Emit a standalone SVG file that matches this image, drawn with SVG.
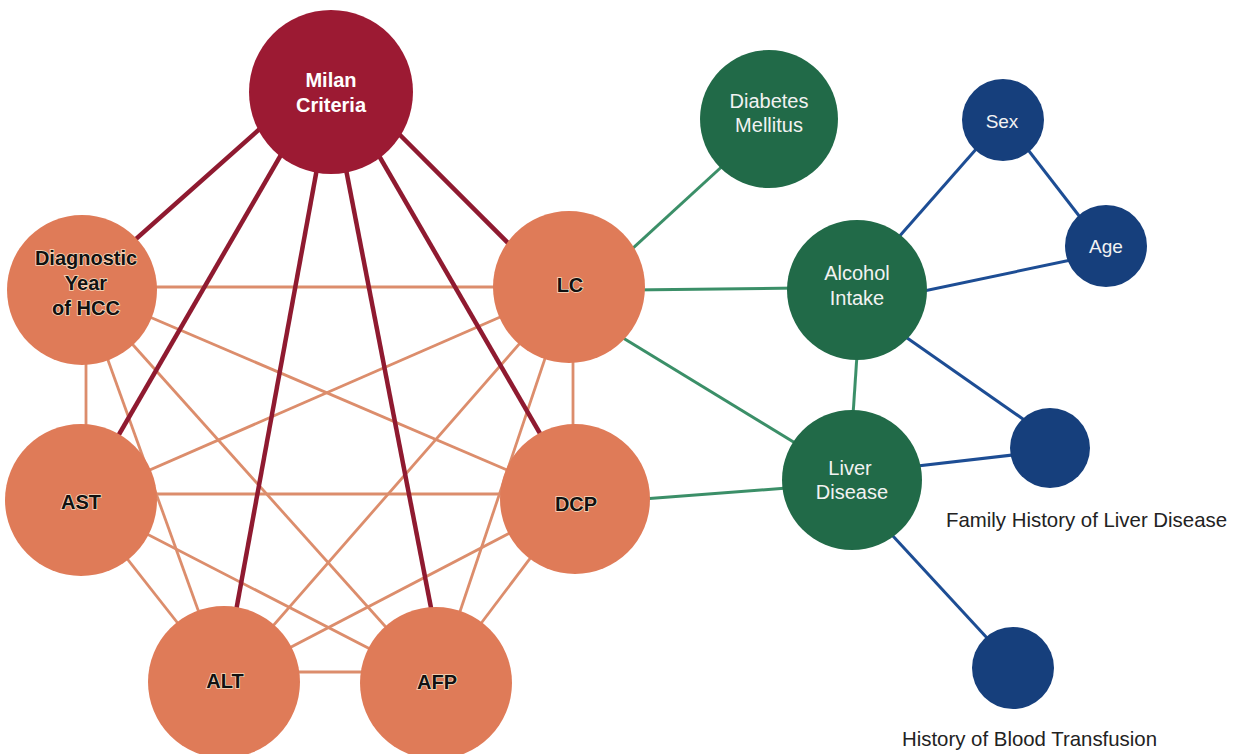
<svg xmlns="http://www.w3.org/2000/svg" width="1238" height="754" viewBox="0 0 1238 754">
<style>
.eo{stroke:#dc8d6c;stroke-width:2.8;fill:none}
.er{stroke:#8f1a30;stroke-width:4.5;fill:none}
.eg{stroke:#3b8f68;stroke-width:3;fill:none}
.eb{stroke:#1d4d94;stroke-width:3;fill:none}
.nm{fill:#9c1a33}
.no{fill:#df7b58}
.ng{fill:#216a48}
.nb{fill:#163f7c}
text{font-family:"Liberation Sans",Arial,sans-serif;font-size:20px;text-anchor:middle}
.tw{fill:#ffffff;font-weight:bold}
.tk{fill:#111111;font-weight:bold;stroke:#f7dcc0;stroke-width:1.6;paint-order:stroke}
.tl{fill:#f2f2f2}
.cap{fill:#222222;text-anchor:start;font-size:20.4px}
</style>
<rect width="1238" height="754" fill="#ffffff"/>
<g id="connectors">
<line class="eo" x1="82" y1="287" x2="569" y2="287"/>
<line class="eo" x1="86" y1="288" x2="86" y2="500"/>
<line class="eo" x1="82" y1="288" x2="575" y2="499"/>
<line class="eo" x1="82" y1="288" x2="224" y2="682"/>
<line class="eo" x1="82" y1="288" x2="436" y2="683"/>
<line class="eo" x1="569" y1="287" x2="81" y2="500"/>
<line class="eo" x1="573" y1="287" x2="573" y2="499"/>
<line class="eo" x1="569" y1="287" x2="224" y2="682"/>
<line class="eo" x1="569" y1="287" x2="436" y2="683"/>
<line class="eo" x1="81" y1="494" x2="575" y2="494"/>
<line class="eo" x1="81" y1="500" x2="224" y2="682"/>
<line class="eo" x1="81" y1="500" x2="436" y2="683"/>
<line class="eo" x1="575" y1="499" x2="224" y2="682"/>
<line class="eo" x1="575" y1="499" x2="436" y2="683"/>
<line class="eo" x1="224" y1="672" x2="436" y2="672"/>
<line class="er" x1="82" y1="287" x2="300" y2="93"/>
<line class="er" x1="81" y1="500" x2="300" y2="122"/>
<line class="er" x1="331" y1="92" x2="223" y2="682"/>
<line class="er" x1="331" y1="92" x2="445" y2="680"/>
<line class="er" x1="342" y1="92" x2="578" y2="499"/>
<line class="er" x1="365" y1="100" x2="540" y2="275"/>
<line class="eg" x1="620" y1="260" x2="740" y2="150"/>
<line class="eg" x1="630" y1="290" x2="800" y2="288"/>
<line class="eg" x1="610" y1="330" x2="805" y2="449"/>
<line class="eg" x1="630" y1="500" x2="800" y2="487"/>
<line class="eg" x1="858" y1="340" x2="852" y2="430"/>
<line class="eb" x1="890" y1="247" x2="985" y2="139"/>
<line class="eb" x1="1015" y1="133" x2="1090" y2="230"/>
<line class="eb" x1="900" y1="296" x2="1090" y2="256"/>
<line class="eb" x1="890" y1="326" x2="1040" y2="431"/>
<line class="eb" x1="900" y1="468" x2="1030" y2="453"/>
<line class="eb" x1="880" y1="522" x2="1000" y2="652"/>
</g>
<g id="milan"><circle class="nm" cx="331" cy="92" r="82"/><text class="tw" x="331" y="87">Milan</text><text class="tw" x="331" y="112">Criteria</text></g>
<g id="diagnostic"><circle class="no" cx="82" cy="290" r="75"/><text class="tk" x="86" y="265">Diagnostic</text><text class="tk" x="86" y="290">Year</text><text class="tk" x="86" y="315">of HCC</text></g>
<g id="lc"><circle class="no" cx="569" cy="287" r="76"/><text class="tk" x="570" y="292">LC</text></g>
<g id="ast"><circle class="no" cx="81" cy="500" r="76"/><text class="tk" x="81" y="509">AST</text></g>
<g id="dcp"><circle class="no" cx="575" cy="499" r="75"/><text class="tk" x="576" y="511">DCP</text></g>
<g id="alt"><circle class="no" cx="224" cy="682" r="76"/><text class="tk" x="225" y="688">ALT</text></g>
<g id="afp"><circle class="no" cx="436" cy="683" r="76"/><text class="tk" x="437" y="689">AFP</text></g>
<g id="diabetes"><circle class="ng" cx="769" cy="119" r="69"/><text class="tl" x="769" y="108">Diabetes</text><text class="tl" x="769" y="132">Mellitus</text></g>
<g id="alcohol"><circle class="ng" cx="857" cy="290" r="70"/><text class="tl" x="857" y="280">Alcohol</text><text class="tl" x="857" y="305">Intake</text></g>
<g id="liver"><circle class="ng" cx="852" cy="480" r="70"/><text class="tl" x="850" y="475">Liver</text><text class="tl" x="852" y="499">Disease</text></g>
<g id="sex"><circle class="nb" cx="1003" cy="120" r="41"/><text class="tl" x="1002" y="128" style="font-size:19px">Sex</text></g>
<g id="age"><circle class="nb" cx="1106" cy="246" r="41"/><text class="tl" x="1106" y="253" style="font-size:19px">Age</text></g>
<g id="family"><circle class="nb" cx="1050" cy="448" r="40"/><text class="cap" x="946" y="527">Family History of Liver Disease</text></g>
<g id="transfusion"><circle class="nb" cx="1013" cy="668" r="41"/><text class="cap" x="902" y="746">History of Blood Transfusion</text></g>
</svg>
